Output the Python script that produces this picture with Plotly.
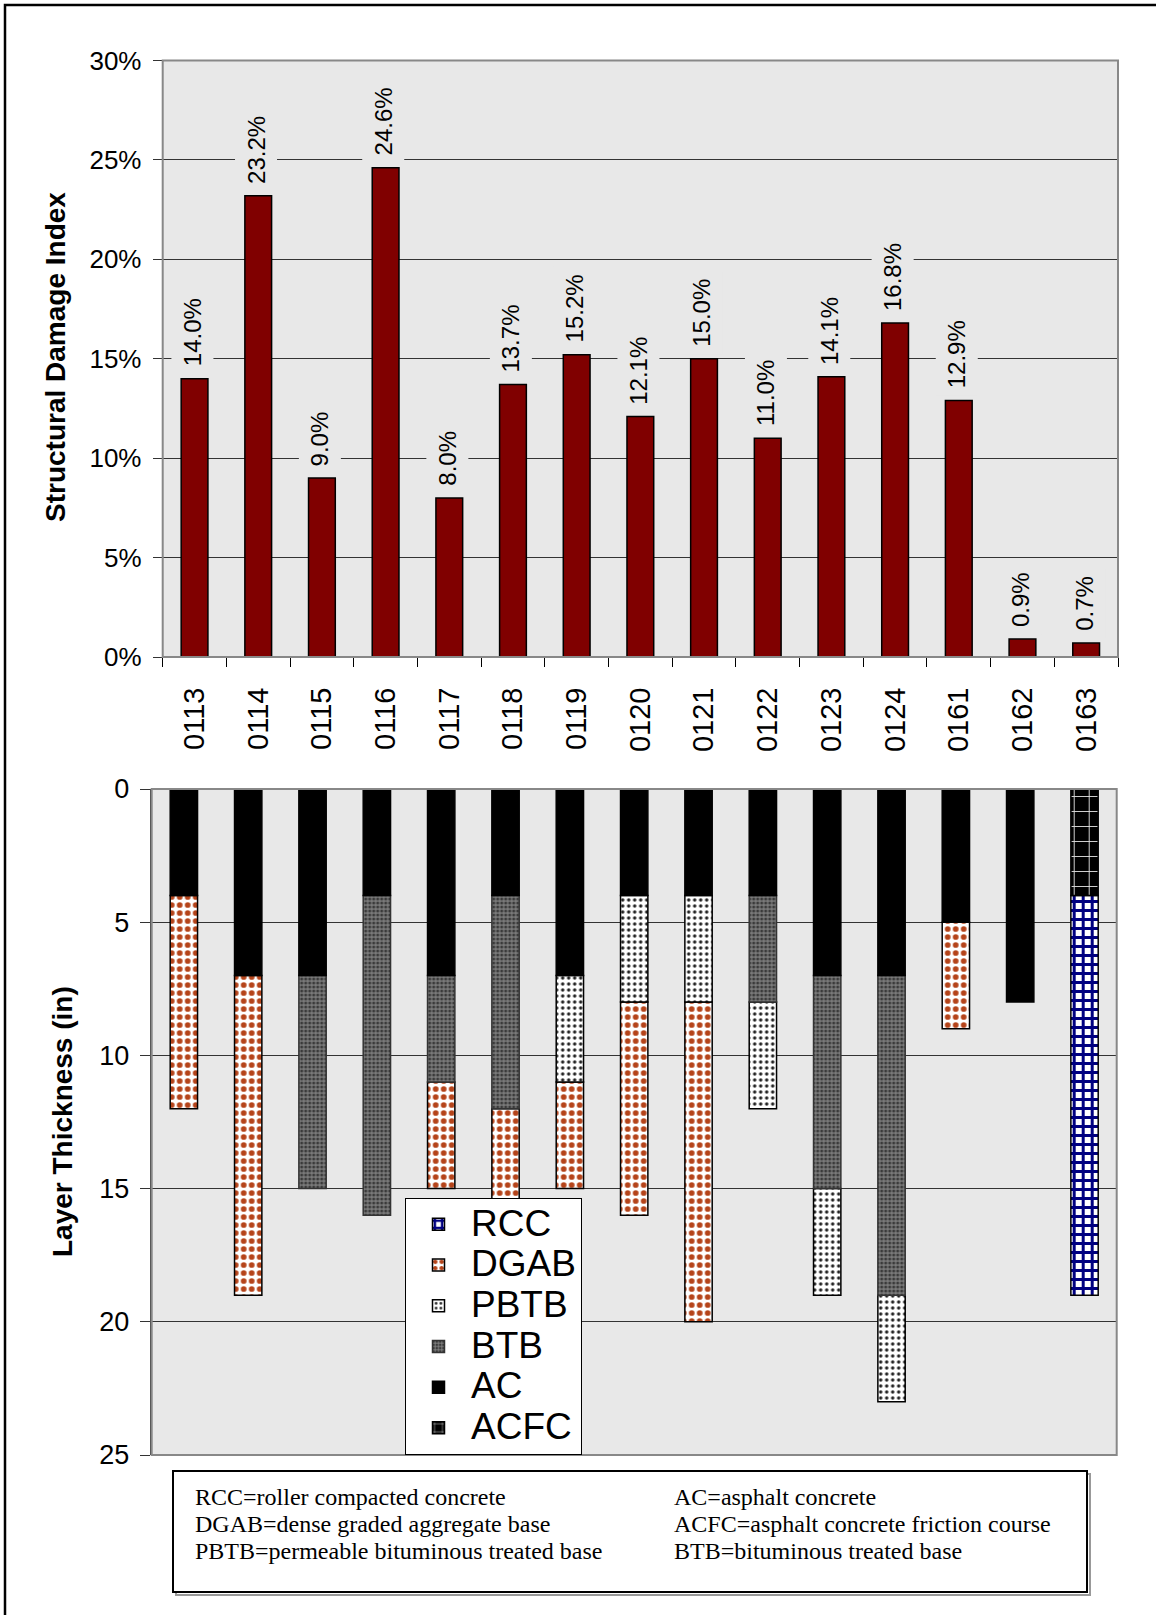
import plotly.graph_objects as go

W, H = 1156, 1615

sections = ["0113", "0114", "0115", "0116", "0117", "0118", "0119", "0120",
            "0121", "0122", "0123", "0124", "0161", "0162", "0163"]
damage_pct = [14.0, 23.2, 9.0, 24.6, 8.0, 13.7, 15.2, 12.1, 15.0, 11.0, 14.1, 16.8, 12.9, 0.9, 0.7]

# layer intervals: top depth / bottom depth (in), None where the layer is absent
rcc_top = [None] * 14 + [4]
rcc_bot = [None] * 14 + [19]
dgab_top = [4, 7, None, None, 11, 12, 11, 8, 8, None, None, None, 5, None, None]
dgab_bot = [12, 19, None, None, 15, 16, 15, 16, 20, None, None, None, 9, None, None]
pbtb_top = [None] * 6 + [7, 4, 4, 8, 15, 19, None, None, None]
pbtb_bot = [None] * 6 + [11, 8, 8, 12, 19, 23, None, None, None]
btb_top = [None, None, 7, 4, 7, 4, None, None, None, 4, 7, 7, None, None, None]
btb_bot = [None, None, 15, 16, 11, 12, None, None, None, 8, 15, 19, None, None, None]
ac_top = [0, 0, 0, 0, 0, 0, 0, 0, 0, 0, 0, 0, 0, 0, None]
ac_bot = [4, 7, 7, 4, 7, 4, 7, 4, 4, 4, 7, 7, 5, 8, None]
acfc_top = [None] * 14 + [0]
acfc_bot = [None] * 14 + [4]

legend_names = ["RCC", "DGAB", "PBTB", "BTB", "AC", "ACFC"]
box_left = ["RCC=roller compacted concrete",
            "DGAB=dense graded aggregate base",
            "PBTB=permeable bituminous treated base"]
box_right = ["AC=asphalt concrete",
             "ACFC=asphalt concrete friction course",
             "BTB=bituminous treated base"]

FONT = "Arial, Liberation Sans, sans-serif"
SERIF = "Times New Roman, Liberation Serif, serif"
PLOT_BG = "#e8e8e8"


def px_x(p):
    return p / W


def px_y(p):
    return 1 - p / H


styles = {
    "RCC": dict(pattern=dict(shape="+", fgcolor="#000080", bgcolor="#ffffff", size=9, solidity=0.55, fillmode="replace"),
                line=dict(color="#000000", width=1.5)),
    "DGAB": dict(pattern=dict(shape=".", fgcolor="#b5441a", bgcolor="#ffffff", size=8, solidity=0.4, fillmode="replace"),
                 line=dict(color="#000000", width=1.5)),
    "PBTB": dict(pattern=dict(shape=".", fgcolor="#222222", bgcolor="#ffffff", size=6, solidity=0.25, fillmode="replace"),
                 line=dict(color="#000000", width=1.5)),
    "BTB": dict(pattern=dict(shape=".", fgcolor="#3a3a3a", bgcolor="#7a7a7a", size=4, solidity=0.45, fillmode="replace"),
                line=dict(color="#333333", width=1.5)),
    "AC": dict(color="#000000", line=dict(color="#000000", width=1.5)),
    "ACFC": dict(pattern=dict(shape="+", fgcolor="#dddddd", bgcolor="#000000", size=15, solidity=0.12, fillmode="replace"),
                 line=dict(color="#000000", width=1.5)),
}

layers = {
    "RCC": (rcc_top, rcc_bot),
    "DGAB": (dgab_top, dgab_bot),
    "PBTB": (pbtb_top, pbtb_bot),
    "BTB": (btb_top, btb_bot),
    "AC": (ac_top, ac_bot),
    "ACFC": (acfc_top, acfc_bot),
}

fig = go.Figure()

# top chart: structural damage index
fig.add_trace(go.Bar(
    x=sections, y=damage_pct, xaxis="x", yaxis="y",
    marker=dict(color="#800000", line=dict(color="#000000", width=1.5)),
    width=0.42, showlegend=False, hoverinfo="skip",
))

# bottom chart: layer thickness
for name in legend_names:
    tops, bots = layers[name]
    thick = [None if t is None else b - t for t, b in zip(tops, bots)]
    fig.add_trace(go.Bar(
        x=sections, y=thick, base=tops, xaxis="x2", yaxis="y2",
        name=f'<span style="font-size:37px">{name}</span>',
        marker=styles[name], width=0.425, hoverinfo="skip",
    ))

annotations = []
for i, v in enumerate(damage_pct):
    annotations.append(dict(
        x=i, y=v, xref="x", yref="y", text=f"{v:.1f}%", textangle=-90,
        showarrow=False, yanchor="bottom", xanchor="center", yshift=4, xshift=-2,
        font=dict(family=FONT, size=24, color="#000000"),
        bgcolor=PLOT_BG, borderpad=7,
    ))

# axis titles
annotations.append(dict(
    x=px_x(55), y=px_y(357), xref="paper", yref="paper", text="<b>Structural Damage Index</b>",
    textangle=-90, showarrow=False, xanchor="center", yanchor="middle",
    font=dict(family=FONT, size=28, color="#000000"),
))
annotations.append(dict(
    x=px_x(62), y=px_y(1122), xref="paper", yref="paper", text="<b>Layer Thickness (in)</b>",
    textangle=-90, showarrow=False, xanchor="center", yanchor="middle",
    font=dict(family=FONT, size=28, color="#000000"),
))

# note box text
line_y = [1497, 1524, 1551]
for i, t in enumerate(box_left):
    annotations.append(dict(x=px_x(193), y=px_y(line_y[i]), xref="paper", yref="paper", text=t,
                            showarrow=False, xanchor="left", yanchor="middle",
                            font=dict(family=SERIF, size=24, color="#000000")))
for i, t in enumerate(box_right):
    annotations.append(dict(x=px_x(672), y=px_y(line_y[i]), xref="paper", yref="paper", text=t,
                            showarrow=False, xanchor="left", yanchor="middle",
                            font=dict(family=SERIF, size=24, color="#000000")))

shapes = [
    # outer border (continues past the right and bottom edges)
    dict(type="rect", xref="paper", yref="paper", x0=px_x(5), x1=px_x(1170), y0=px_y(1630), y1=px_y(5),
         line=dict(color="#000000", width=2.5), fillcolor="rgba(0,0,0,0)", layer="above"),
    # plot area borders
    dict(type="rect", xref="x domain", yref="y domain", x0=0, x1=1, y0=0, y1=1,
         line=dict(color="#888888", width=2), layer="above"),
    dict(type="rect", xref="x2 domain", yref="y2 domain", x0=0, x1=1, y0=0, y1=1,
         line=dict(color="#888888", width=2), layer="above"),
    # note box shadow + box
    dict(type="rect", xref="paper", yref="paper", x0=px_x(176), x1=px_x(1090), y0=px_y(1595), y1=px_y(1474),
         line=dict(color="#999999", width=2), fillcolor="rgba(0,0,0,0)"),
    dict(type="rect", xref="paper", yref="paper", x0=px_x(173), x1=px_x(1087), y0=px_y(1592), y1=px_y(1471),
         line=dict(color="#000000", width=2), fillcolor="#ffffff"),
]

fig.update_layout(
    width=W, height=H,
    margin=dict(l=0, r=0, t=0, b=0, pad=0, autoexpand=False),
    paper_bgcolor="#ffffff", plot_bgcolor=PLOT_BG,
    barmode="overlay",
    font=dict(family=FONT, color="#000000"),
    xaxis=dict(
        domain=[px_x(162.7), px_x(1118)], anchor="y", type="category",
        range=[-0.5, len(sections) - 0.5], automargin=False,
        showgrid=False, showline=True, linecolor="#000000", linewidth=1,
        ticks="outside", tickson="boundaries", ticklen=9, tickcolor="#000000",
        tickangle=-90, tickfont=dict(size=29, family=FONT), ticklabelstandoff=18,
        zeroline=False,
    ),
    yaxis=dict(
        domain=[px_y(657), px_y(60.5)], anchor="x", automargin=False,
        range=[0, 30], dtick=5, ticksuffix="%",
        showgrid=True, gridcolor="#333333", gridwidth=1,
        showline=True, linecolor="#444444", linewidth=1,
        ticks="outside", ticklen=9, tickcolor="#333333",
        tickfont=dict(size=26, family=FONT), ticklabelstandoff=6,
        zeroline=False,
    ),
    xaxis2=dict(
        domain=[px_x(151.7), px_x(1116.7)], anchor="y2", type="category",
        range=[-0.5, len(sections) - 0.5], automargin=False,
        showgrid=False, showline=False, showticklabels=False, ticks="",
        zeroline=False,
    ),
    yaxis2=dict(
        domain=[px_y(1455), px_y(789)], anchor="x2", automargin=False,
        range=[25, 0], dtick=5,
        showgrid=True, gridcolor="#333333", gridwidth=1,
        showline=True, linecolor="#444444", linewidth=2,
        ticks="outside", ticklen=10, tickcolor="#333333",
        tickfont=dict(size=27, family=FONT), ticklabelstandoff=5,
        zeroline=False,
    ),
    legend=dict(
        x=px_x(405), y=px_y(1198), xanchor="left", yanchor="top",
        xref="paper", yref="paper",
        bgcolor="#ffffff", bordercolor="#000000", borderwidth=1,
        font=dict(size=29, family=FONT, color="#000000"),
        traceorder="normal", itemwidth=55,
    ),
    annotations=annotations,
    shapes=shapes,
)

fig.write_html("out.html", config={"displayModeBar": False})
